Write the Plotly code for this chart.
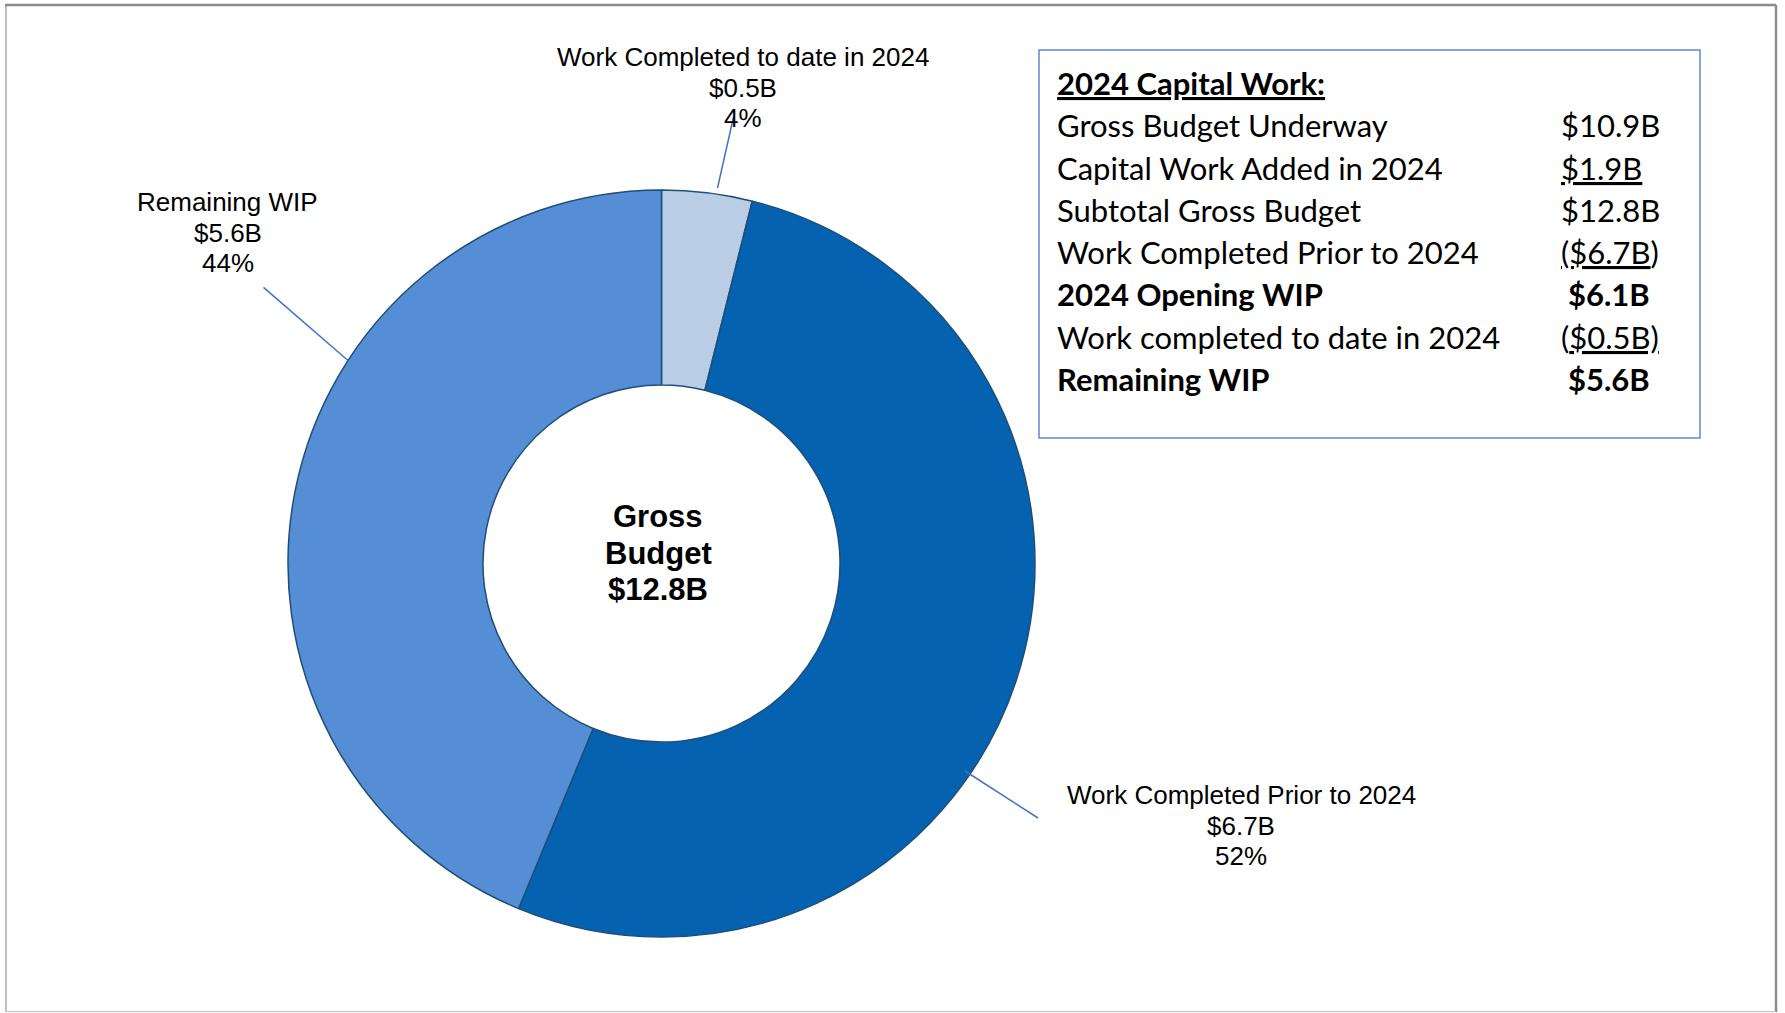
import plotly.graph_objects as go

W, H = 1785, 1013

# ---- data ----
slice_labels = ["Work Completed to date in 2024", "Work Completed Prior to 2024", "Remaining WIP"]
slice_values = [0.5, 6.7, 5.6]
slice_pcts = [4, 52, 44]
slice_colors = ["#B9CDE5", "#0462B0", "#558ED5"]

table_title = "2024 Capital Work:"
table_labels = ["Gross Budget Underway", "Capital Work Added in 2024", "Subtotal Gross Budget",
                "Work Completed Prior to 2024", "2024 Opening WIP",
                "Work completed to date in 2024", "Remaining WIP"]
table_values = ["$10.9B", "<u>$1.9B</u>", "$12.8B", "<u>($6.7B</u>)", "$6.1B",
                "(<u>$0.5B)</u>", "$5.6B"]
table_bold = [False, False, False, False, True, False, True]

total = sum(slice_values)


def px(x):
    return x / W


def py(y):
    return 1 - y / H


fig = go.Figure()
fig.add_trace(go.Pie(
    labels=slice_labels, values=slice_values, sort=False, direction="clockwise",
    rotation=0, hole=0.478, textinfo="none", hoverinfo="label+value+percent",
    marker=dict(colors=slice_colors, line=dict(color="#1F4E79", width=1.5)),
    domain=dict(x=[px(661.5 - 373.5), px(661.5 + 373.5)],
                y=[py(563.5 + 373.5), py(563.5 - 373.5)]),
    showlegend=False,
))

annotations = []
shapes = []

# pie labels (three lines each)
label_pos = [(742.5, 57.0), (1241.0, 795.0), (228.0, 202.0)]
leader = [((717.5, 188.0), (733.4, 117.5)),
          ((965.0, 771.0), (1038.0, 818.0)),
          ((348.0, 360.5), (263.5, 287.4))]
lab_font = dict(family="Liberation Sans, Arial", size=26, color="#000000")
for i, name in enumerate(slice_labels):
    lines = [name, f"${slice_values[i]}B", f"{slice_pcts[i]}%"]
    x0, y0 = label_pos[i]
    for k, t in enumerate(lines):
        annotations.append(dict(x=px(x0), y=py(y0 + k * 30.7), xref="paper", yref="paper",
                                text=t, showarrow=False, xanchor="center", yanchor="middle",
                                font=lab_font))
    (a, b), (c, d) = leader[i]
    shapes.append(dict(type="line", xref="paper", yref="paper", x0=px(a), y0=py(b),
                       x1=px(c), y1=py(d), line=dict(color="#4472C4", width=1.5)))

# center text
center_lines = ["Gross", "Budget", f"${total:.1f}B"]
for k, t in enumerate(center_lines):
    annotations.append(dict(x=px(658), y=py(516.7 + k * 36.5), xref="paper", yref="paper",
                            text=f"<b>{t}</b>", showarrow=False, xanchor="center",
                            yanchor="middle",
                            font=dict(family="Liberation Sans, Arial", size=31, color="#000000")))

# table box
shapes.append(dict(type="rect", xref="paper", yref="paper", x0=px(1039), y0=py(50),
                   x1=px(1700), y1=py(438), line=dict(color="#5B8BD0", width=1.5),
                   fillcolor="rgba(0,0,0,0)"))
tab_font = dict(family="Lato, Carlito, Calibri", size=31, color="#000000")
row_y0 = 83.3
row_dy = 42.2
annotations.append(dict(x=px(1055), y=py(row_y0), xref="paper", yref="paper",
                        text=f"<b><u>{table_title}</u></b>", showarrow=False,
                        xanchor="left", yanchor="middle", font=tab_font))
for i, (lab, val) in enumerate(zip(table_labels, table_values)):
    yy = py(row_y0 + (i + 1) * row_dy)
    b = table_bold[i]
    annotations.append(dict(x=px(1055), y=yy, xref="paper", yref="paper",
                            text=f"<b>{lab}</b>" if b else lab, showarrow=False,
                            xanchor="left", yanchor="middle", font=tab_font))
    annotations.append(dict(x=px(1566 if b else 1559), y=yy, xref="paper", yref="paper",
                            text=f"<b>{val}</b>" if b else val, showarrow=False,
                            xanchor="left", yanchor="middle", font=tab_font))

# outer frame
shapes += [
    dict(type="line", xref="paper", yref="paper", x0=px(5), y0=py(5), x1=px(1776), y1=py(5),
         line=dict(color="#8C8C8C", width=2.5)),
    dict(type="line", xref="paper", yref="paper", x0=px(1776), y0=py(5), x1=px(1776), y1=py(1012),
         line=dict(color="#8C8C8C", width=2.5)),
    dict(type="line", xref="paper", yref="paper", x0=px(6), y0=py(5), x1=px(6), y1=py(1012),
         line=dict(color="#7F7F7F", width=1)),
    dict(type="line", xref="paper", yref="paper", x0=px(6), y0=py(1011.5), x1=px(1776), y1=py(1011.5),
         line=dict(color="#BFBFBF", width=1)),
]

fig.update_layout(width=W, height=H, margin=dict(l=0, r=0, t=0, b=0),
                  paper_bgcolor="#FFFFFF", plot_bgcolor="#FFFFFF",
                  annotations=annotations, shapes=shapes, showlegend=False)

fig.write_html("out.html", config={"displayModeBar": False},
               post_script="document.body.style.margin='0';document.body.style.overflow='hidden';")
